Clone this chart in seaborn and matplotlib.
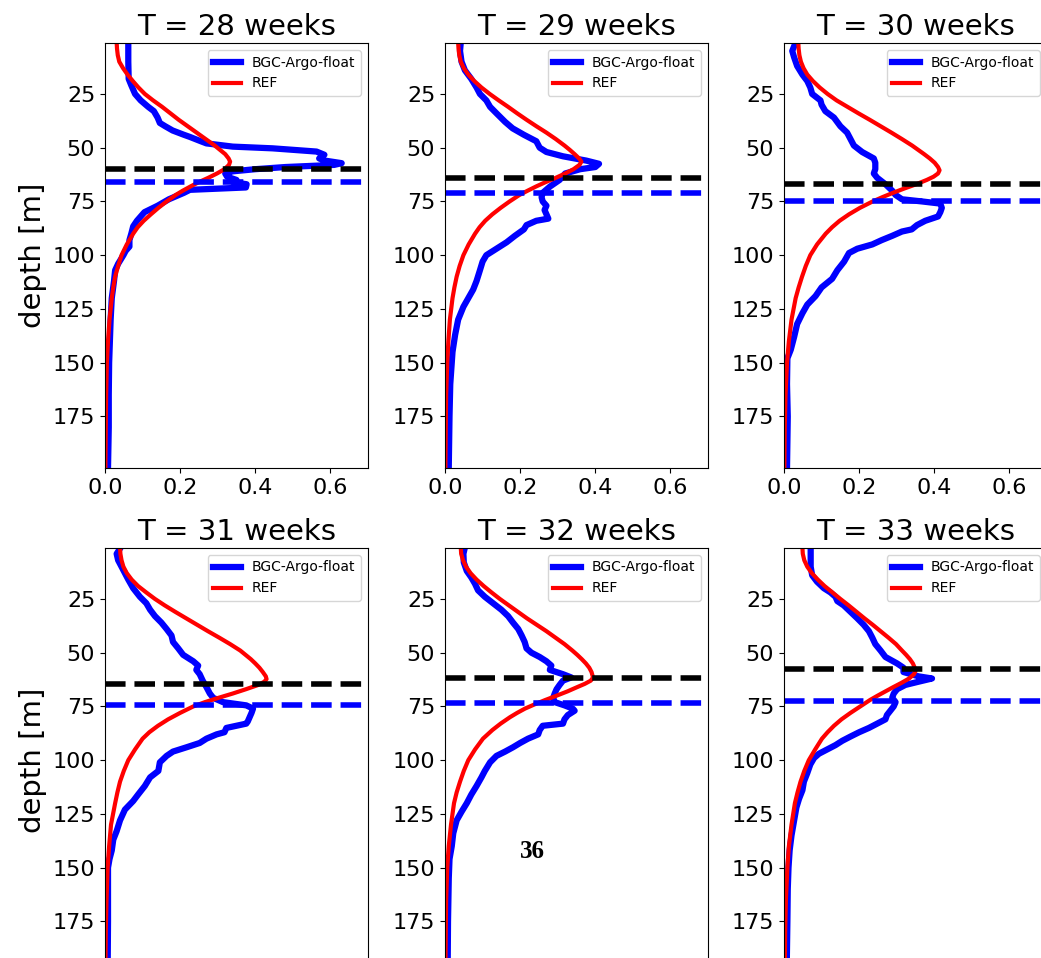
import matplotlib
matplotlib.use("Agg")
import matplotlib.pyplot as plt
import seaborn as sns

# ---- chlorophyll profiles (depth in m, concentration) ----
weeks = [28, 29, 30, 31, 32, 33]

argo_depth_28 = [1, 10, 18, 21, 25, 28, 31, 33, 36, 38.5, 40, 42, 44, 45, 47, 48, 49.5, 50.3,
                 51.8, 53.3, 55, 56, 57.2, 58, 59, 60, 61, 62, 63.5, 65, 66, 67, 68.5, 69.6,
                 71, 74, 77, 80, 82, 84, 86.6, 90, 93, 96, 98, 100, 104, 107, 112, 120, 130,
                 140, 150, 165, 180, 199]
argo_chl_28 = [0.062, 0.062, 0.063, 0.07, 0.08, 0.095, 0.115, 0.13, 0.14, 0.146, 0.16, 0.18,
               0.21, 0.226, 0.255, 0.27, 0.34, 0.446, 0.563, 0.584, 0.57, 0.585, 0.63, 0.61,
               0.48, 0.40, 0.34, 0.32, 0.325, 0.35, 0.34, 0.377, 0.375, 0.226, 0.21, 0.17,
               0.14, 0.105, 0.095, 0.085, 0.075, 0.07, 0.065, 0.065, 0.055, 0.049, 0.035,
               0.027, 0.024, 0.018, 0.015, 0.013, 0.011, 0.01, 0.01, 0.008]

argo_depth_29 = [1, 5, 10, 14, 18, 22, 25, 28, 31, 34, 38, 41, 44, 47, 50, 52, 54, 56, 57.5,
                 59, 60, 62, 65, 68, 71, 73, 75, 77, 79, 81, 83, 84, 86, 88, 91, 94, 97, 100,
                 103, 107, 112, 116, 120, 124, 130, 137, 145, 150, 160, 175, 199]
argo_chl_29 = [0.042, 0.04, 0.044, 0.053, 0.07, 0.084, 0.093, 0.11, 0.12, 0.137, 0.16, 0.18,
               0.21, 0.243, 0.252, 0.27, 0.314, 0.376, 0.41, 0.40, 0.36, 0.32, 0.305, 0.28,
               0.26, 0.257, 0.26, 0.27, 0.265, 0.27, 0.275, 0.243, 0.217, 0.21, 0.186, 0.164,
               0.137, 0.11, 0.10, 0.093, 0.084, 0.075, 0.062, 0.049, 0.035, 0.027, 0.02,
               0.018, 0.014, 0.012, 0.01]

argo_depth_30 = [1, 5, 8, 12, 16, 19, 22, 25, 28, 30, 33, 36, 40, 43, 46, 49, 52, 55, 57, 60,
                 62, 64, 67, 70, 72, 74, 75, 76, 78, 80, 82, 84, 86, 88, 89, 91, 93, 95, 97,
                 99, 103, 107, 111, 115, 119, 123, 127, 132, 138, 144, 148, 160, 175, 199]
argo_chl_30 = [0.031, 0.022, 0.027, 0.035, 0.049, 0.062, 0.07, 0.075, 0.097, 0.10, 0.11,
               0.133, 0.15, 0.168, 0.177, 0.186, 0.208, 0.239, 0.243, 0.243, 0.239, 0.248,
               0.27, 0.288, 0.297, 0.314, 0.367, 0.416, 0.42, 0.416, 0.41, 0.376, 0.354,
               0.34, 0.314, 0.288, 0.26, 0.235, 0.195, 0.173, 0.16, 0.142, 0.128, 0.10,
               0.084, 0.062, 0.049, 0.035, 0.027, 0.018, 0.009, 0.008, 0.01, 0.008]

argo_depth_31 = [1, 4, 7, 10, 13, 16, 20, 24, 27, 30, 33, 36, 39, 42, 45, 48, 51, 54, 56, 58,
                 60, 63, 66, 69, 71, 73, 74.5, 76, 78, 80, 82, 83, 85, 87, 88, 90, 92, 94,
                 96, 98, 101, 105, 108, 112, 116, 119, 123, 128, 133, 137, 142, 146, 150,
                 175, 199]
argo_chl_31 = [0.042, 0.031, 0.035, 0.044, 0.053, 0.062, 0.075, 0.093, 0.11, 0.12, 0.133,
               0.15, 0.164, 0.177, 0.181, 0.195, 0.208, 0.235, 0.248, 0.243, 0.252, 0.26,
               0.27, 0.279, 0.288, 0.314, 0.376, 0.394, 0.39, 0.385, 0.38, 0.376, 0.323,
               0.318, 0.297, 0.27, 0.252, 0.217, 0.181, 0.164, 0.146, 0.142, 0.12, 0.106,
               0.088, 0.075, 0.053, 0.04, 0.031, 0.022, 0.018, 0.012, 0.008, 0.008, 0.007]

argo_depth_32 = [1, 4, 8, 12, 15, 18, 21, 24, 27, 30, 33, 36, 39, 42, 45, 48, 50, 52, 54, 56,
                 58, 60, 61.5, 63, 65, 67, 69, 71, 73, 74.5, 76, 77, 79, 81, 83, 84, 86, 88,
                 90, 92, 94, 96, 98, 101, 105, 108, 112, 116, 120, 124, 128, 134, 140, 146,
                 155, 175, 199]
argo_chl_32 = [0.053, 0.049, 0.05, 0.058, 0.07, 0.08, 0.088, 0.106, 0.128, 0.15, 0.168,
               0.181, 0.195, 0.204, 0.212, 0.217, 0.23, 0.252, 0.27, 0.283, 0.279, 0.314,
               0.336, 0.314, 0.305, 0.297, 0.292, 0.288, 0.292, 0.318, 0.34, 0.345, 0.327,
               0.318, 0.314, 0.26, 0.252, 0.248, 0.221, 0.2, 0.181, 0.16, 0.137, 0.12, 0.106,
               0.097, 0.084, 0.07, 0.058, 0.044, 0.031, 0.022, 0.018, 0.012, 0.01, 0.008,
               0.007]

argo_depth_33 = [1, 5, 10, 14, 17, 20, 22, 24, 26, 28, 31, 34, 37, 40, 43, 46, 49, 52, 55, 57,
                 59, 61, 62, 63.5, 65, 67, 69, 71, 73, 75, 77, 79, 81, 83, 85, 87, 89, 91, 93,
                 95, 97, 99, 102, 106, 110, 114, 118, 122, 128, 135, 142, 150, 160, 175, 199]
argo_chl_33 = [0.071, 0.071, 0.071, 0.075, 0.088, 0.106, 0.124, 0.137, 0.142, 0.159, 0.177,
               0.195, 0.212, 0.226, 0.235, 0.243, 0.257, 0.27, 0.301, 0.318, 0.318, 0.358,
               0.394, 0.358, 0.323, 0.301, 0.292, 0.288, 0.297, 0.292, 0.283, 0.274, 0.27,
               0.248, 0.226, 0.2, 0.177, 0.155, 0.137, 0.115, 0.093, 0.08, 0.07, 0.062,
               0.053, 0.049, 0.04, 0.033, 0.027, 0.02, 0.015, 0.012, 0.01, 0.009, 0.007]

ref_depth_28 = [1, 4, 7, 10, 13, 16, 19, 22, 25, 28, 31, 34, 37, 40, 43, 46, 49, 51, 53, 55,
                56.5, 58, 60, 62, 64, 66, 68, 70, 72, 75, 78, 81, 84, 87, 90, 95, 100, 105,
                110, 115, 120, 130, 140, 150, 165, 180, 199]
ref_chl_28 = [0.031, 0.032, 0.034, 0.038, 0.048, 0.060, 0.074, 0.089, 0.106, 0.128, 0.152,
              0.174, 0.196, 0.220, 0.244, 0.268, 0.292, 0.306, 0.320, 0.329, 0.333, 0.330,
              0.318, 0.298, 0.275, 0.250, 0.228, 0.207, 0.188, 0.164, 0.142, 0.122, 0.103,
              0.087, 0.075, 0.058, 0.044, 0.035, 0.027, 0.022, 0.018, 0.012, 0.008, 0.005,
              0.003, 0.002, 0.001]

ref_depth_29 = [1, 4, 7, 10, 13, 16, 19, 22, 25, 28, 31, 34, 37, 40, 43, 46, 49, 51, 53, 55,
                56.5, 58, 60, 62, 64, 66, 68, 70, 72, 75, 78, 81, 84, 87, 90, 95, 100, 105,
                110, 115, 120, 130, 140, 150, 165, 180, 199]
ref_chl_29 = [0.035, 0.036, 0.038, 0.042, 0.050, 0.062, 0.078, 0.097, 0.119, 0.143, 0.168,
              0.192, 0.217, 0.243, 0.270, 0.295, 0.318, 0.332, 0.345, 0.357, 0.363, 0.358,
              0.342, 0.320, 0.295, 0.268, 0.243, 0.220, 0.198, 0.172, 0.148, 0.126, 0.107,
              0.092, 0.080, 0.063, 0.049, 0.039, 0.031, 0.025, 0.020, 0.013, 0.009, 0.006,
              0.003, 0.002, 0.001]

ref_depth_30 = [1, 4, 7, 10, 13, 16, 19, 22, 25, 28, 31, 34, 37, 40, 43, 46, 49, 51, 53, 55,
                57, 59, 60.5, 62, 63.5, 65, 67, 69, 71, 73, 75, 78, 81, 84, 87, 90, 95, 100,
                105, 110, 115, 120, 130, 140, 150, 165, 180, 199]
ref_chl_30 = [0.038, 0.039, 0.041, 0.045, 0.052, 0.062, 0.077, 0.095, 0.116, 0.140, 0.169,
              0.198, 0.228, 0.257, 0.286, 0.314, 0.341, 0.357, 0.373, 0.388, 0.401, 0.410,
              0.414, 0.410, 0.398, 0.380, 0.352, 0.320, 0.290, 0.262, 0.236, 0.202, 0.173,
              0.148, 0.128, 0.111, 0.088, 0.070, 0.058, 0.048, 0.039, 0.031, 0.020, 0.013,
              0.008, 0.004, 0.002, 0.001]

ref_depth_31 = [1, 4, 7, 10, 13, 16, 19, 22, 25, 28, 31, 34, 37, 40, 43, 46, 49, 51, 53, 55,
                57, 59, 61, 62.3, 63.5, 65, 67, 69, 71, 73, 75, 78, 81, 84, 87, 90, 95, 100,
                105, 110, 115, 120, 130, 140, 150, 165, 180, 199]
ref_chl_31 = [0.040, 0.041, 0.044, 0.049, 0.058, 0.071, 0.088, 0.110, 0.133, 0.159, 0.187,
              0.216, 0.245, 0.274, 0.304, 0.333, 0.360, 0.374, 0.388, 0.400, 0.411, 0.420,
              0.428, 0.430, 0.424, 0.408, 0.375, 0.340, 0.302, 0.266, 0.235, 0.200, 0.168,
              0.141, 0.118, 0.100, 0.080, 0.062, 0.050, 0.040, 0.033, 0.027, 0.016, 0.011,
              0.007, 0.004, 0.002, 0.001]

ref_depth_32 = [1, 4, 7, 10, 13, 16, 19, 22, 25, 28, 31, 34, 37, 40, 43, 46, 49, 51, 53, 55,
                57, 59, 61.5, 63, 64.5, 66, 68, 70, 72, 74, 76, 78, 80, 83, 86, 90, 95, 100,
                105, 110, 115, 120, 130, 140, 150, 165, 180, 199]
ref_chl_32 = [0.042, 0.043, 0.048, 0.056, 0.068, 0.084, 0.103, 0.124, 0.146, 0.170, 0.194,
              0.218, 0.244, 0.270, 0.294, 0.318, 0.339, 0.352, 0.364, 0.375, 0.384, 0.390,
              0.394, 0.388, 0.372, 0.352, 0.326, 0.297, 0.267, 0.239, 0.213, 0.192, 0.173,
              0.148, 0.126, 0.101, 0.080, 0.062, 0.050, 0.040, 0.031, 0.024, 0.016, 0.010,
              0.006, 0.003, 0.002, 0.001]

ref_depth_33 = [1, 4, 7, 10, 13, 16, 19, 22, 25, 28, 31, 34, 37, 40, 43, 46, 49, 51, 53, 55,
                57, 58.5, 60, 62, 64, 66, 68, 70, 72, 75, 78, 81, 84, 87, 90, 95, 100, 105,
                110, 115, 120, 130, 140, 150, 165, 180, 199]
ref_chl_33 = [0.049, 0.050, 0.054, 0.062, 0.074, 0.090, 0.108, 0.129, 0.150, 0.172, 0.193,
              0.214, 0.236, 0.257, 0.278, 0.298, 0.314, 0.325, 0.335, 0.343, 0.348, 0.350,
              0.346, 0.333, 0.313, 0.291, 0.270, 0.249, 0.229, 0.203, 0.177, 0.153, 0.133,
              0.116, 0.101, 0.083, 0.066, 0.054, 0.044, 0.036, 0.029, 0.020, 0.013, 0.009,
              0.005, 0.003, 0.002]

# depth of the chlorophyll maximum for each week
ref_dcm = [60, 64, 67, 64.5, 62, 57.7]
argo_dcm = [66, 71, 75, 74.5, 73.5, 72.5]

argo_depths = [argo_depth_28, argo_depth_29, argo_depth_30, argo_depth_31, argo_depth_32, argo_depth_33]
argo_chls = [argo_chl_28, argo_chl_29, argo_chl_30, argo_chl_31, argo_chl_32, argo_chl_33]
ref_depths = [ref_depth_28, ref_depth_29, ref_depth_30, ref_depth_31, ref_depth_32, ref_depth_33]
ref_chls = [ref_chl_28, ref_chl_29, ref_chl_30, ref_chl_31, ref_chl_32, ref_chl_33]

# ---- figure layout (pixel geometry at 100 dpi) ----
W, H = 1041, 958
fig = plt.figure(figsize=(W / 100, H / 100), dpi=100)
col_left = [105, 445, 784]
row_top = [43, 548]
ax_w, ax_h = 263, 425

for i, week in enumerate(weeks):
    r, c = divmod(i, 3)
    left = col_left[c] / W
    bottom = (H - row_top[r] - ax_h) / H
    ax = fig.add_axes([left, bottom, ax_w / W, ax_h / H])

    sns.lineplot(x=argo_chls[i], y=argo_depths[i], sort=False, estimator=None,
                 color="blue", linewidth=4.5, label="BGC-Argo-float", ax=ax,
                 solid_joinstyle="round")
    sns.lineplot(x=ref_chls[i], y=ref_depths[i], sort=False, estimator=None,
                 color="red", linewidth=3, label="REF", ax=ax,
                 solid_joinstyle="round")
    ax.axhline(ref_dcm[i], color="black", linestyle="--", linewidth=4)
    ax.axhline(argo_dcm[i], color="blue", linestyle="--", linewidth=4)

    ax.set_xlim(0, 0.7)
    ax.set_ylim(199, 1.3)
    ax.set_xticks([0.0, 0.2, 0.4, 0.6])
    ax.set_yticks([25, 50, 75, 100, 125, 150, 175])
    ax.tick_params(labelsize=16)
    if r == 1:
        # lower row: its x axis falls below the page edge
        ax.tick_params(axis="x", labelbottom=False)
    ax.set_title(f"T = {week} weeks", fontsize=21)
    ax.set_xlabel("")
    ax.set_ylabel("depth [m]" if c == 0 else "", fontsize=21)
    ax.legend(loc="upper right", fontsize=10)

fig.text(532 / W, 1 - 851 / H, "36", fontsize=18, fontweight="bold",
         family="Liberation Serif", ha="center", va="center")

fig.savefig("out.png", dpi=100)
